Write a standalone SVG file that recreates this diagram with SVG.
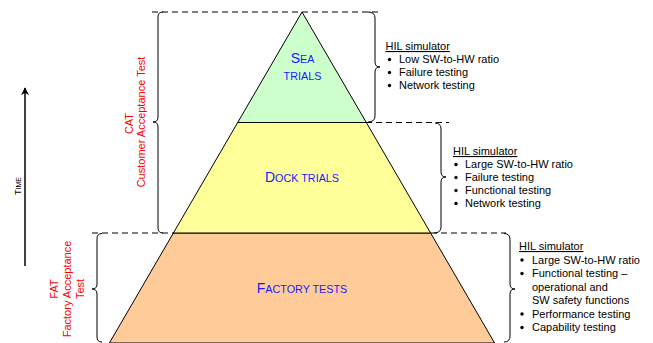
<svg xmlns="http://www.w3.org/2000/svg" width="653" height="343" viewBox="0 0 653 343">
<style>
.lst{font-family:"Liberation Sans",Arial,sans-serif;font-size:11px;fill:#000}
.hd{text-decoration:underline}
.ttl{font-family:"Liberation Sans",Arial,sans-serif;fill:#1a1aff;text-anchor:middle}
.big{font-size:14px}
.sm{font-size:10.8px}
.red{font-family:"Liberation Sans",Arial,sans-serif;font-size:11px;fill:#ff0000;text-anchor:middle}
.brace{fill:none;stroke:#000;stroke-width:1}
.dash{fill:none;stroke:#000;stroke-width:1;stroke-dasharray:6,4}
.edge{stroke:#000;stroke-width:1}
</style>
<defs>
<marker id="ah" viewBox="0 0 10 10" refX="9" refY="5" markerWidth="8" markerHeight="8" markerUnits="userSpaceOnUse" orient="auto">
<path d="M0,0 L10,5 L0,10 L3,5 Z" fill="#000"/>
</marker>
</defs>
<rect width="653" height="343" fill="#fff"/>

<g id="factory">
<polygon points="173.4,233 430.6,233 494.6,343 109.4,343" fill="#ffcc99" class="edge"/>
<text class="ttl" x="302" y="292.5"><tspan class="big">F</tspan><tspan class="sm">ACTORY TESTS</tspan></text>
</g>
<g id="dock">
<polygon points="237.7,122.5 366.3,122.5 430.6,233 173.4,233" fill="#ffff99" class="edge"/>
<text class="ttl" x="302" y="182"><tspan class="big">D</tspan><tspan class="sm">OCK TRIALS</tspan></text>
</g>
<g id="sea">
<polygon points="302,12 366.3,122.5 237.7,122.5" fill="#ccffcc" class="edge"/>
<text class="ttl" x="302.5" y="62.5"><tspan class="big">S</tspan><tspan class="sm">EA</tspan></text>
<text class="ttl sm" x="302.5" y="79.5">TRIALS</text>
</g>

<g id="connectors">
<line class="dash" x1="152" y1="12" x2="380" y2="12"/>
<line class="dash" x1="366" y1="122.5" x2="449" y2="122.5"/>
<line class="dash" x1="92" y1="233" x2="174" y2="233"/>
<line class="dash" x1="431" y1="233" x2="506" y2="233"/>
<path class="brace" d="M163,12 Q158,12 158,17 L158,117 Q158,122 153,122 Q158,122 158,127 L158,228 Q158,233 163,233"/>
<path class="brace" d="M102,233.5 Q97,233.5 97,238.5 L97,284 Q97,289 92,289 Q97,289 97,294 L97,337 Q97,342 102,342"/>
<path class="brace" d="M368,12 Q375,12 375,18 L375,62 Q375,67 380,67 Q375,67 375,72 L375,116 Q375,122 368,122"/>
<path class="brace" d="M435,123 Q441,123 441,129 L441,172 Q441,177 446,177 Q441,177 441,182 L441,227 Q441,233 434,233"/>
<path class="brace" d="M504,233.5 Q510,233.5 510,239.5 L510,284 Q510,289 515,289 Q510,289 510,294 L510,336 Q510,342 504,342"/>
<line x1="25" y1="266" x2="25" y2="88" stroke="#000" stroke-width="1.5" marker-end="url(#ah)"/>
</g>

<g id="time-label">
<text font-family="Liberation Sans,Arial,sans-serif" fill="#000" text-anchor="middle" transform="translate(20.5,186) rotate(-90)"><tspan font-size="9">T</tspan><tspan font-size="7">IME</tspan></text>
</g>

<g id="cat-label">
<text class="red" transform="translate(132.5,123.5) rotate(-90)">CAT</text>
<text class="red" transform="translate(144.5,122) rotate(-90)">Customer Acceptance Test</text>
</g>

<g id="fat-label">
<text class="red" transform="translate(58,289) rotate(-90)">FAT</text>
<text class="red" transform="translate(71,289) rotate(-90)">Factory Acceptance</text>
<text class="red" transform="translate(84,289) rotate(-90)">Test</text>
</g>

<g id="sea-list" class="lst">
<text class="hd" x="385.5" y="50">HIL simulator</text>
<circle cx="389.5" cy="59.5" r="1.7"/><text x="399" y="63">Low SW-to-HW ratio</text>
<circle cx="389.5" cy="72.5" r="1.7"/><text x="399" y="76">Failure testing</text>
<circle cx="389.5" cy="85.5" r="1.7"/><text x="399" y="89">Network testing</text>
</g>

<g id="dock-list" class="lst">
<text class="hd" x="453" y="155">HIL simulator</text>
<circle cx="456" cy="164.5" r="1.7"/><text x="465" y="168">Large SW-to-HW ratio</text>
<circle cx="456" cy="177.5" r="1.7"/><text x="465" y="181">Failure testing</text>
<circle cx="456" cy="190.5" r="1.7"/><text x="465" y="194">Functional testing</text>
<circle cx="456" cy="203.5" r="1.7"/><text x="465" y="207">Network testing</text>
</g>

<g id="factory-list" class="lst">
<text class="hd" x="519" y="250">HIL simulator</text>
<circle cx="522" cy="260" r="1.7"/><text x="532" y="263.5">Large SW-to-HW ratio</text>
<circle cx="522" cy="273.5" r="1.7"/><text x="532" y="277">Functional testing –</text>
<text x="532" y="290.5">operational and</text>
<text x="532" y="304">SW safety functions</text>
<circle cx="522" cy="314" r="1.7"/><text x="532" y="317.5">Performance testing</text>
<circle cx="522" cy="327.5" r="1.7"/><text x="532" y="331">Capability testing</text>
</g>
</svg>
